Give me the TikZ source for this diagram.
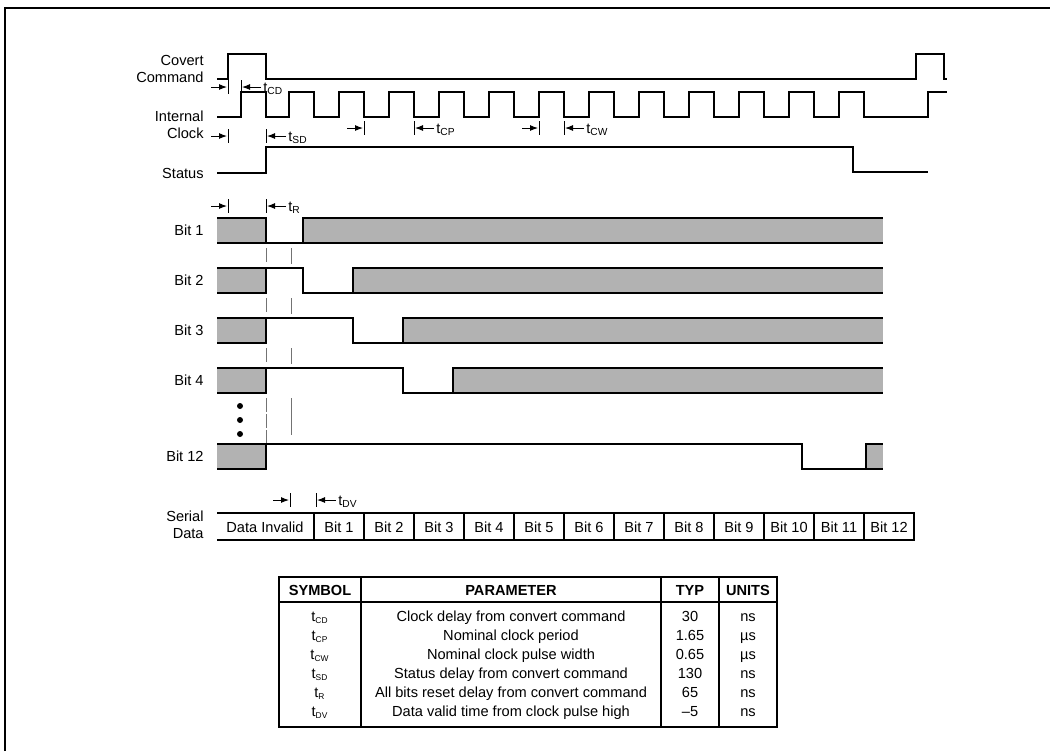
\documentclass[tikz,border=0pt]{standalone}
\usepackage{fontspec}
\setmainfont{Liberation Sans}
\usetikzlibrary{calc,arrows.meta}

\newcommand\tlab[1]{t\textsubscript{#1}}
\newcommand\ttab[1]{t\textsubscript{\fontsize{4.2}{5}\selectfont #1}}

\begin{document}
\begin{tikzpicture}[x=0.5pt,y=-0.5pt,
  sig/.style={line width=1.1pt},
  hatch/.style={fill=black!30},
  guide/.style={line width=0.4pt,black!55},
  tbar/.style={line width=0.5pt},
  tarr/.style={line width=0.5pt,-{Latex[length=4pt,width=3pt]}},
  lbl/.style={anchor=east,align=right,inner sep=0pt,font=\fontsize{7.3}{8.7}\selectfont},
  txt/.style={inner sep=0pt,font=\fontsize{7.3}{8.7}\selectfont},
  cell/.style={txt,anchor=base},
  hdr/.style={inner sep=0pt,anchor=base,font=\fontsize{7.3}{8.7}\selectfont\bfseries}]
\useasboundingbox (0,0) rectangle (1050,751);
\draw[line width=1.2pt] (5,751)--(5,8)--(1050,8);

% names of the signals
\node[lbl] (cc) at (204,69) {Covert\\Command};
\node[lbl] (clk) at (204,124.5) {Internal\\Clock};
\node[lbl] (st) at (204,173) {Status};

\draw[sig] (217,79)--(228,79)--(228,54)--(266,54)--(266,79)--(916,79)--(916,54)--(944,54)--(944,79)--(947,79);
\draw[sig] (217,117)--(241,117)--(241,92)--(266,92)--(266,117)
  \foreach \k in {1,...,12}{--(239+50*\k,117)--(239+50*\k,92)--(264+50*\k,92)--(264+50*\k,117)}
  --(928,117)--(928,92)--(947,92);
\draw[sig] (217,173)--(266,173)--(266,147)--(853,147)--(853,172)--(928,172);

% data bits
\foreach \n/\y/\lo/\hi in {1/218/266/303,2/268/303/353,3/318/353/403,4/368/403/453,12/444/802/866}{
  \fill[hatch] (217,\y) rectangle (266,\y+25);
  \fill[hatch] (\hi,\y) rectangle (883,\y+25);
  \draw[sig] (217,\y)--(266,\y)--(266,\y+25)--(217,\y+25);
  \draw[sig] (266,\y)--(\lo,\y)--(\lo,\y+25)--(883,\y+25);
  \draw[sig] (\hi,\y+25)--(\hi,\y)--(883,\y);
  \node[lbl] (bit\n) at (204,\y+12.5) {Bit \n};
}
\foreach \y/\z/\w in {248/264/264,298/314/314,348/364/364,398/443/435}{
  \draw[guide,dash pattern=on 7pt off 1pt] (266,\y)--(266,\z);
  \draw[guide] (291,\y)--(291,\w);
}
\foreach \y in {406,420,434} \fill (240,\y) circle[radius=3];

% timing marks
\foreach \a/\b/\y/\s in {228/241/87/CD,228/266/136/SD,364/414/128/CP,539/564/128/CW,228/266/206/R,290/316/500/DV}{
  \draw[tbar] (\a,\y-7)--(\a,\y+7) (\b,\y-7)--(\b,\y+7);
  \draw[tarr] (\a-17,\y)--(\a-1,\y);
  \draw[tarr] (\b+20,\y)--(\b+1,\y);
  \node[txt,anchor=west] (t\s) at (\b+22,\y+2) {\tlab{\s}};
}

% serial data
\node[lbl] (ser) at (204,525) {Serial\\Data};
\draw[sig] (217,513)--(914,513)--(914,540)--(217,540);
\node[cell] (d0) at (265,532) {Data Invalid};
\foreach \k in {1,...,12}{
  \draw[sig] (264+50*\k,513)--(264+50*\k,540);
  \node[cell] (d\k) at (289+50*\k,532) {Bit \k};
}

% table
\draw[sig] (279,577) rectangle (777,727);
\draw[sig] (279,602)--(777,602);
\foreach \x in {361,661,719} \draw[sig] (\x,577)--(\x,727);
\node[hdr] (hs) at (320,595) {SYMBOL};
\node[hdr] (hp) at (511,595) {PARAMETER};
\node[hdr] (ht) at (690,595) {TYP};
\node[hdr] (hu) at (748,595) {UNITS};
\foreach \i/\s/\p/\v/\u in {0/CD/Clock delay from convert command/30/ns,
  1/CP/Nominal clock period/1.65/µs,
  2/CW/Nominal clock pulse width/0.65/µs,
  3/SD/Status delay from convert command/130/ns,
  4/R/All bits reset delay from convert command/65/ns,
  5/DV/Data valid time from clock pulse high/–5/ns}{
  \node[cell] (s\s) at (320,621+19*\i) {\ttab{\s}};
  \node[cell] (p\s) at (511,621+19*\i) {\p};
  \node[cell] (v\s) at (690,621+19*\i) {\v};
  \node[cell] (u\s) at (748,621+19*\i) {\u};
}
\end{tikzpicture}
\end{document}
